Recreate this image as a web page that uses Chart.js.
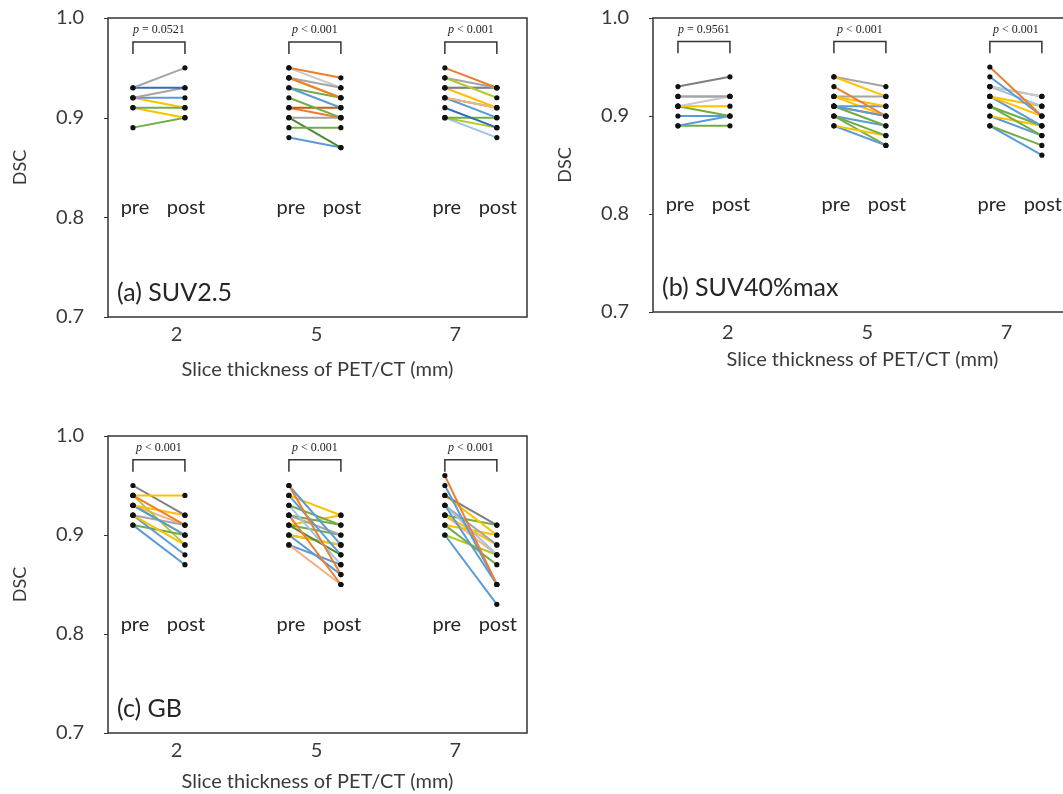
<!DOCTYPE html>
<html>
<head>
<meta charset="utf-8">
<script src="https://cdn.jsdelivr.net/npm/chart.js@4.4.1/dist/chart.umd.min.js"></script>
<style>
	body { margin: 0; background: #fff; width: 1063px; height: 794px; overflow: hidden; position: relative; }
	.pane { position: absolute; }
</style>
</head>
<body>
<div class="pane" style="left:0;top:0"><canvas id="cA" width="545" height="400"></canvas></div>
<div class="pane" style="left:545px;top:0"><canvas id="cB" width="540" height="400"></canvas></div>
<div class="pane" style="left:0;top:418px"><canvas id="cC" width="545" height="380"></canvas></div>
<script>
// slice thickness groups and y ticks
const thickness = ['2', '5', '7']
const yTicks = [0.7, 0.8, 0.9, 1.0]

// (a) SUV2.5 : one array per thickness, pre and post DSC per case
const suv25Pre = [
	[0.93, 0.93, 0.92, 0.92, 0.91, 0.91, 0.92, 0.89],
	[0.95, 0.94, 0.94, 0.94, 0.95, 0.93, 0.92, 0.93, 0.91, 0.91, 0.90, 0.89, 0.90, 0.88],
	[0.95, 0.94, 0.94, 0.93, 0.93, 0.92, 0.93, 0.92, 0.92, 0.91, 0.90, 0.90, 0.90]
]
const suv25Post = [
	[0.95, 0.93, 0.93, 0.92, 0.91, 0.90, 0.91, 0.90],
	[0.94, 0.92, 0.93, 0.92, 0.93, 0.91, 0.90, 0.92, 0.91, 0.90, 0.90, 0.89, 0.87, 0.87],
	[0.93, 0.92, 0.93, 0.93, 0.93, 0.91, 0.91, 0.91, 0.90, 0.89, 0.90, 0.89, 0.88]
]
const suv25P = ['= 0.0521', '< 0.001', '< 0.001']

// (b) SUV40%max
const suv40Pre = [
	[0.93, 0.92, 0.91, 0.91, 0.91, 0.90, 0.89, 0.89, 0.92],
	[0.94, 0.94, 0.93, 0.92, 0.92, 0.91, 0.91, 0.91, 0.92, 0.90, 0.90, 0.89, 0.89, 0.90, 0.91],
	[0.95, 0.94, 0.93, 0.93, 0.92, 0.92, 0.92, 0.91, 0.91, 0.90, 0.90, 0.89, 0.89, 0.93]
]
const suv40Post = [
	[0.94, 0.92, 0.92, 0.91, 0.90, 0.90, 0.90, 0.89, 0.92],
	[0.92, 0.93, 0.90, 0.91, 0.92, 0.90, 0.89, 0.91, 0.90, 0.88, 0.89, 0.88, 0.87, 0.87, 0.90],
	[0.90, 0.90, 0.92, 0.91, 0.90, 0.91, 0.89, 0.89, 0.88, 0.89, 0.88, 0.87, 0.86, 0.92]
]
const suv40P = ['= 0.9561', '< 0.001', '< 0.001']

// (c) GB
const gbPre = [
	[0.94, 0.95, 0.94, 0.93, 0.93, 0.92, 0.93, 0.92, 0.92, 0.91, 0.91, 0.94, 0.93],
	[0.95, 0.95, 0.94, 0.94, 0.93, 0.93, 0.92, 0.92, 0.92, 0.91, 0.91, 0.90, 0.90, 0.90, 0.89, 0.89, 0.91],
	[0.96, 0.95, 0.94, 0.94, 0.93, 0.93, 0.93, 0.92, 0.92, 0.91, 0.91, 0.90, 0.90, 0.92]
]
const gbPost = [
	[0.94, 0.92, 0.91, 0.92, 0.90, 0.91, 0.90, 0.89, 0.88, 0.87, 0.90, 0.89, 0.91],
	[0.86, 0.89, 0.92, 0.88, 0.91, 0.87, 0.90, 0.85, 0.91, 0.92, 0.88, 0.86, 0.89, 0.89, 0.85, 0.87, 0.90],
	[0.85, 0.85, 0.91, 0.90, 0.85, 0.88, 0.89, 0.89, 0.91, 0.90, 0.87, 0.83, 0.88, 0.88]
]
const gbP = ['< 0.001', '< 0.001', '< 0.001']

// line colours (office style palette), kept apart from the data
const palette = {
	B: '#5b9bd5', DB: '#2e6fb0', O: '#ed7d31', LO: '#f4b183', DO: '#c55a11',
	G: '#a5a5a5', LG: '#c9c9c9', DG: '#7f7f7f', Y: '#ffc000', GR: '#70ad47',
	DGR: '#4e8a2e', YG: '#b5c82b', LB: '#9dc3e6'
}
const suv25Colors = [
	['G', 'DB', 'G', 'B', 'GR', 'Y', 'Y', 'GR'],
	['O', 'O', 'G', 'Y', 'LG', 'B', 'GR', 'GR', 'DO', 'O', 'G', 'GR', 'DGR', 'B'],
	['O', 'YG', 'G', 'DG', 'LB', 'LO', 'Y', 'GR', 'B', 'DB', 'GR', 'YG', 'LB']
]
const suv40Colors = [
	['DG', 'G', 'LG', 'Y', 'GR', 'B', 'B', 'GR', 'G'],
	['Y', 'G', 'O', 'Y', 'G', 'B', 'GR', 'B', 'Y', 'GR', 'B', 'Y', 'B', 'GR', 'O'],
	['O', 'B', 'LG', 'LB', 'Y', 'Y', 'B', 'GR', 'GR', 'Y', 'B', 'GR', 'B', 'G']
]
const gbColors = [
	['Y', 'DG', 'O', 'Y', 'B', 'G', 'GR', 'Y', 'B', 'B', 'GR', 'YG', 'LO'],
	['O', 'B', 'Y', 'B', 'GR', 'LB', 'G', 'O', 'GR', 'Y', 'DGR', 'B', 'Y', 'GR', 'LO', 'B', 'GR'],
	['O', 'B', 'DG', 'Y', 'B', 'LB', 'G', 'Y', 'GR', 'Y', 'GR', 'B', 'YG', 'LO']
]

const FONT = 'Lato'
const TXT = '#3a3a3a'

const panels = [
	{ id: 'cA', pre: suv25Pre, post: suv25Post, colors: suv25Colors, p: suv25P, name: '(a) SUV2.5', tickAt: [0.84, 3.53, 6.2], xHeight: 69, padBottom: 14, padRight: 18, tickPad: 6 },
	{ id: 'cB', pre: suv40Pre, post: suv40Post, colors: suv40Colors, p: suv40P, name: '(b) SUV40%max', tickAt: [0.96, 3.64, 6.32], xHeight: 64, padBottom: 24, padRight: 13, tickPad: 9 },
	{ id: 'cC', pre: gbPre, post: gbPost, colors: gbColors, p: gbP, name: '(c) GB', tickAt: [0.84, 3.53, 6.2], xHeight: 65, padBottom: 0, padRight: 18, tickPad: 6 }
]

function makeDecor(panel) {
	return {
		id: 'decor',
		afterDatasetsDraw(chart) {
			const { ctx, chartArea: a, scales: { x, y } } = chart
			ctx.save()
			ctx.strokeStyle = '#333'
			ctx.lineWidth = 1.5
			ctx.strokeRect(a.left, a.top, a.right - a.left, a.bottom - a.top)

			// small outward tick marks on the y axis
			ctx.lineWidth = 1
			yTicks.forEach((v) => {
				const py = Math.round(y.getPixelForValue(v)) + 0.5
				ctx.beginPath()
				ctx.moveTo(a.left - 4, py)
				ctx.lineTo(a.left, py)
				ctx.stroke()
			})

			for (let g = 0; g < thickness.length; g++) {
				const x1 = x.getPixelForValue(g * 3)
				const x2 = x.getPixelForValue(g * 3 + 1)
				const yTop = y.getPixelForValue(0.976)
				const yBot = y.getPixelForValue(0.964)
				ctx.strokeStyle = '#333'
				ctx.lineWidth = 1.5
				ctx.beginPath()
				ctx.moveTo(x1, yBot)
				ctx.lineTo(x1, yTop)
				ctx.lineTo(x2, yTop)
				ctx.lineTo(x2, yBot)
				ctx.stroke()

				// p value text
				const rest = ' ' + panel.p[g]
				ctx.fillStyle = '#222'
				ctx.textBaseline = 'middle'
				ctx.textAlign = 'left'
				ctx.font = 'italic 12px "Liberation Serif"'
				const wp = ctx.measureText('p').width
				ctx.font = '12px "Liberation Serif"'
				const wr = ctx.measureText(rest).width
				const sx = (x1 + x2) / 2 - (wp + wr) / 2
				const ty = y.getPixelForValue(0.988)
				ctx.font = 'italic 12px "Liberation Serif"'
				ctx.fillText('p', sx, ty)
				ctx.font = '12px "Liberation Serif"'
				ctx.fillText(rest, sx + wp, ty)

				// pre / post labels
				ctx.font = '20px ' + FONT
				ctx.fillStyle = '#262626'
				ctx.textAlign = 'center'
				const ly = y.getPixelForValue(0.81)
				ctx.fillText('pre', x1 + 2, ly)
				ctx.fillText('post', x2 + 1, ly)
			}

			ctx.font = '25px ' + FONT
			ctx.textAlign = 'left'
			ctx.fillStyle = '#262626'
			ctx.fillText(panel.name, a.left + 9, a.bottom - 24)
			ctx.restore()
		}
	}
}

panels.forEach((panel) => {
	const datasets = []
	const dots = []
	for (let g = 0; g < thickness.length; g++) {
		for (let i = 0; i < panel.pre[g].length; i++) {
			const pts = [
				{ x: g * 3, y: panel.pre[g][i] },
				{ x: g * 3 + 1, y: panel.post[g][i] }
			]
			datasets.push({
				type: 'line',
				data: pts,
				borderColor: palette[panel.colors[g][i]],
				borderWidth: 2,
				pointRadius: 0,
				order: 1
			})
			dots.push(pts[0], pts[1])
		}
	}
	datasets.push({
		type: 'scatter',
		data: dots,
		pointRadius: 2.6,
		pointBackgroundColor: '#111',
		pointBorderWidth: 0,
		order: -1
	})

	new Chart(document.getElementById(panel.id), {
		type: 'line',
		data: { datasets },
		options: {
			responsive: false,
			animation: false,
			layout: { padding: { left: 3, right: panel.padRight, top: 6, bottom: panel.padBottom } },
			plugins: { legend: { display: false }, tooltip: { enabled: false } },
			scales: {
				x: {
					type: 'linear',
					min: -0.48,
					max: 7.58,
					afterBuildTicks: (s) => { s.ticks = panel.tickAt.map((v) => ({ value: v })) },
					afterFit: (s) => { s.height = panel.xHeight },
					ticks: {
						callback: (v, i) => thickness[i],
						font: { family: FONT, size: 20 },
						color: TXT,
						padding: panel.tickPad,
						maxRotation: 0,
						autoSkip: false
					},
					grid: { display: false, drawTicks: false },
					border: { display: false },
					title: {
						display: true,
						text: 'Slice thickness of PET/CT (mm)',
						font: { family: FONT, size: 20 },
						color: TXT,
						padding: { top: 6 }
					}
				},
				y: {
					min: 0.7,
					max: 1.0,
					afterBuildTicks: (s) => { s.ticks = yTicks.map((v) => ({ value: v })) },
					afterFit: (s) => { s.width = 105 },
					ticks: {
						callback: (v) => v.toFixed(1),
						font: { family: FONT, size: 20 },
						color: TXT,
						padding: 6
					},
					grid: { drawOnChartArea: false, tickLength: 18, tickColor: 'rgba(0,0,0,0)' },
					border: { display: false },
					title: {
						display: true,
						text: 'DSC',
						font: { family: FONT, size: 18 },
						color: TXT,
						padding: { top: 6 }
					}
				}
			}
		},
		plugins: [makeDecor(panel)]
	})
})
</script>
</body>
</html>
